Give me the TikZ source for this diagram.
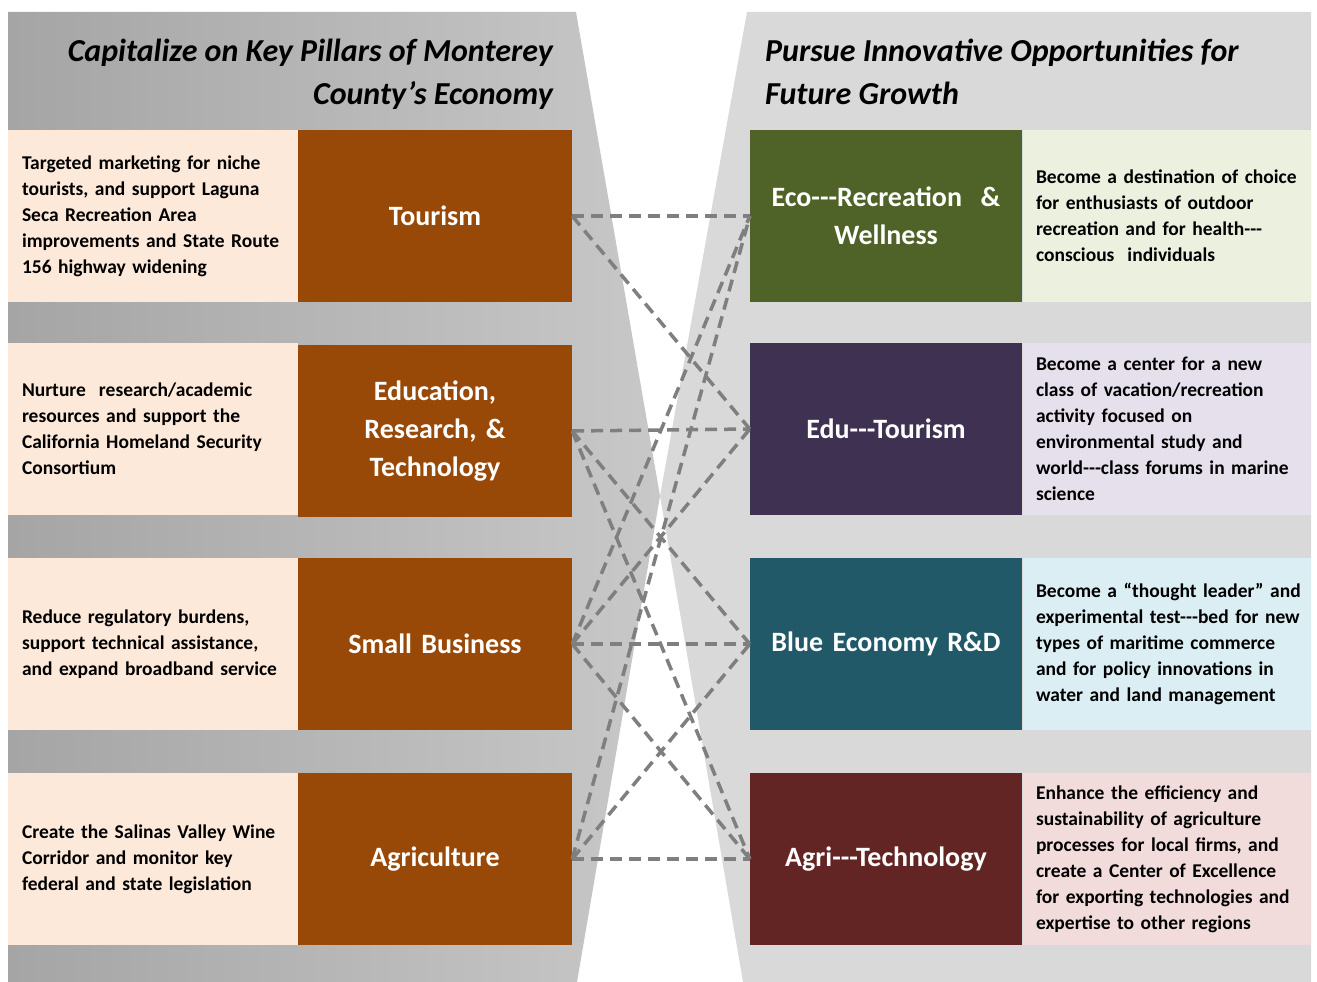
\documentclass[tikz,border=0pt]{standalone}
\usepackage{fontspec}
\setmainfont{Carlito}
\usepackage{tikz}
\usepackage{xcolor}
\definecolor{panelleft}{RGB}{165,165,165}
\definecolor{panelright}{RGB}{200,200,200}
\definecolor{panelgray}{RGB}{217,217,217}
\definecolor{peach}{RGB}{253,233,217}
\definecolor{pillarbrown}{RGB}{152,72,7}
\definecolor{ecogreen}{RGB}{79,98,40}
\definecolor{ecolight}{RGB}{235,241,222}
\definecolor{eduviolet}{RGB}{63,49,81}
\definecolor{edulight}{RGB}{229,224,236}
\definecolor{blueteal}{RGB}{33,89,104}
\definecolor{bluelight}{RGB}{219,238,244}
\definecolor{agrimaroon}{RGB}{99,37,35}
\definecolor{agrilight}{RGB}{242,220,219}
\definecolor{linkgray}{RGB}{127,127,127}
\newcommand{\tripdash}{-{}-{}-}

\begin{document}
\begin{tikzpicture}[x=1pt,y=1pt]
\tikzstyle{every node}+=[inner sep=0pt]
\tikzstyle{desc}=[minimum height=172pt, inner xsep=14pt, text width=262pt, align=left, font=\fontsize{19.5}{26}\selectfont\bfseries]
\tikzstyle{pillar}=[fill=pillarbrown, text=white, minimum width=274pt, minimum height=172pt, text width=250pt, align=center, font=\fontsize{28}{38}\selectfont\bfseries]
\tikzstyle{heading}=[font=\fontsize{32}{43}\selectfont\bfseries\itshape]
\tikzstyle{link}=[draw=linkgray, line width=3.5pt, dash pattern=on 12pt off 7pt]
\useasboundingbox (0,0) rectangle (1317,-982);
\fill [white] (0,0) rectangle (1317,-982);
\shade [left color=panelleft, right color=panelright] (8,-12) -- (576,-12) -- (660,-496) -- (577,-982) -- (8,-982) -- cycle;
\fill [panelgray] (747,-12) -- (1311,-12) -- (1311,-982) -- (743,-982) -- (660,-496) -- cycle;
\node [heading, align=right, anchor=north east] (lefthead) at (553,-39) {Capitalize on Key Pillars of Monterey\\County’s Economy};
\node [heading, align=left, anchor=north west] (righthead) at (765,-39) {Pursue Innovative Opportunities for\\Future Growth};
\node [desc, fill=peach] (tourismtxt) at (153,-216) {Targeted marketing for niche\\tourists, and support Laguna\\Seca Recreation Area\\improvements and State Route\\156 highway widening};
\node [desc, fill=peach] (educationtxt) at (153,-429) {Nurture \ research/academic\\resources and support the\\California Homeland Security\\Consortium};
\node [desc, fill=peach] (smallbiztxt) at (153,-644) {Reduce regulatory burdens,\\support technical assistance,\\and expand broadband service};
\node [desc, fill=peach] (agriculturetxt) at (153,-859) {Create the Salinas Valley Wine\\Corridor and monitor key\\federal and state legislation};
\node [pillar] (tourism) at (435,-216) {Tourism};
\node [pillar] (education) at (435,-431) {Education,\\Research, \&\\Technology};
\node [pillar] (smallbiz) at (435,-644) {Small Business};
\node [pillar] (agriculture) at (435,-859) {Agriculture};
\node [pillar, fill=ecogreen, minimum width=272pt] (ecorec) at (886,-216) {Eco\tripdash Recreation \ \&\\Wellness};
\node [pillar, fill=eduviolet, minimum width=272pt] (edutour) at (886,-429) {Edu\tripdash Tourism};
\node [pillar, fill=blueteal, minimum width=272pt] (blueecon) at (886,-644) {Blue Economy R\&D};
\node [pillar, fill=agrimaroon, minimum width=272pt] (agritech) at (886,-859) {Agri\tripdash Technology};
\node [desc, fill=ecolight, inner xsep=13pt] (ecorectxt) at (1167,-216) {Become a destination of choice\\for enthusiasts of outdoor\\recreation and for health\tripdash\\conscious \ individuals};
\node [desc, fill=edulight, inner xsep=13pt] (edutourtxt) at (1167,-429) {Become a center for a new\\class of vacation/recreation\\activity focused on\\environmental study and\\\mbox{world\tripdash class forums in marine}\\science};
\node [desc, fill=bluelight, inner xsep=13pt] (blueecontxt) at (1167,-644) {\mbox{Become a “thought leader” and}\\\mbox{experimental test\tripdash bed for new}\\types of maritime commerce\\and for policy innovations in\\water and land management};
\node [desc, fill=agrilight, inner xsep=13pt] (agritechtxt) at (1167,-859) {Enhance the efficiency and\\sustainability of agriculture\\processes for local firms, and\\create a Center of Excellence\\\mbox{for exporting technologies and}\\expertise to other regions};
\foreach \from/\to in {tourism/ecorec, tourism/edutour, education/edutour, education/blueecon, education/agritech, smallbiz/ecorec, smallbiz/edutour, smallbiz/blueecon, smallbiz/agritech, agriculture/ecorec, agriculture/blueecon, agriculture/agritech}
  \draw [link] (\from.east) -- (\to.west);
\end{tikzpicture}
\end{document}
